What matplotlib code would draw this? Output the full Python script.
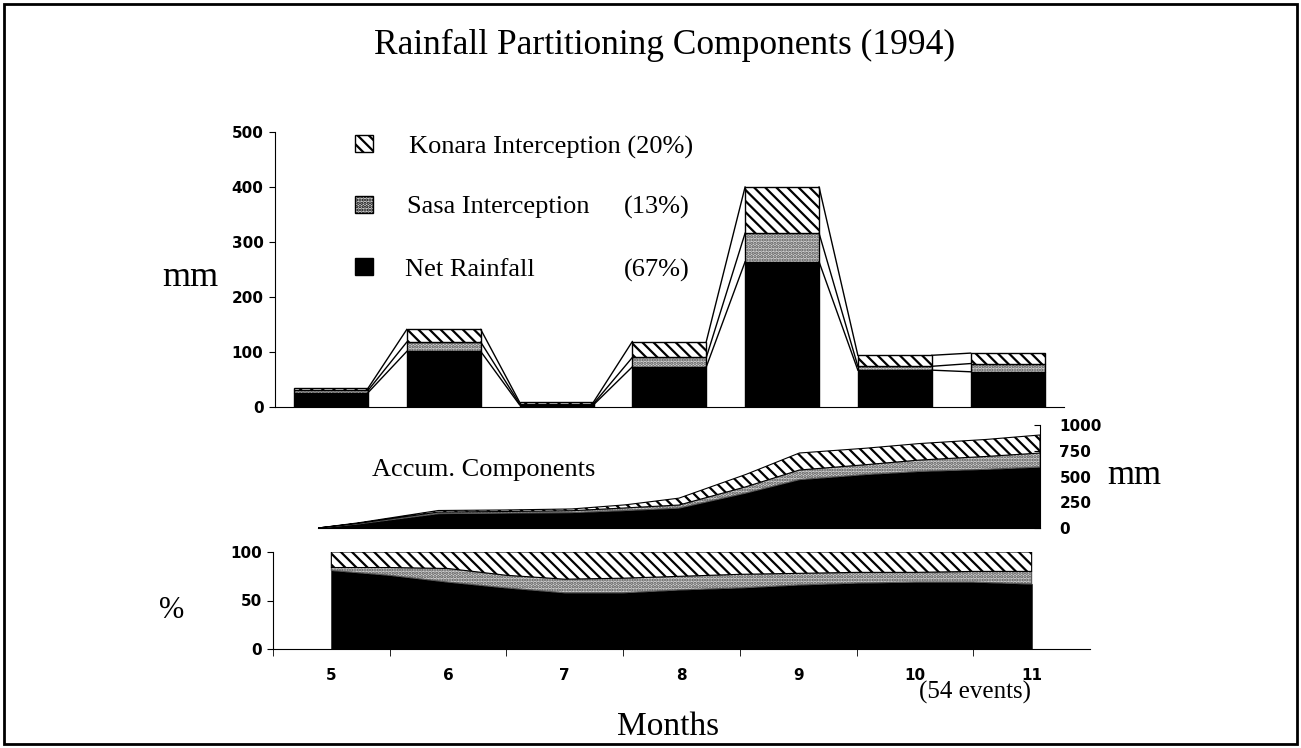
import numpy as np
import matplotlib
matplotlib.use('Agg')
import matplotlib.pyplot as plt
from matplotlib.patches import Rectangle

# monthly components (mm)
months = [5, 6, 7, 8, 9, 10, 11]
net = [26, 101, 4, 73, 264, 67, 64]
sasa = [4, 17, 2, 17, 52, 7, 15]
konara = [4, 23, 3, 29, 84, 20, 19]

# accumulated components (mm) along the 54 events
acc_event = [0, 3, 6, 9, 14, 19, 23, 27, 32, 36, 41, 45, 50, 54]
acc_net = [0, 40, 90, 140, 145, 150, 170, 194, 340, 470, 520, 550, 570, 592]
acc_sasa = [0, 5, 10, 15, 15, 18, 25, 29, 60, 93, 95, 110, 125, 136]
acc_konara = [0, 5, 10, 15, 15, 17, 30, 67, 120, 165, 160, 160, 165, 175]

# accumulated share (%)
pct_x = [5, 5.5, 6, 6.5, 7, 7.5, 8, 8.5, 9, 9.5, 10, 10.5, 11]
pct_net = [81, 76, 69, 63, 58, 58, 61, 63, 66, 68, 69, 69, 67]
pct_sasa = [3, 8, 14, 13, 14, 15, 14, 14, 12, 11, 10, 11, 13]
pct_konara = [16, 16, 17, 24, 28, 27, 25, 23, 22, 21, 21, 20, 20]

legend_names = ['Konara Interception (20%)', 'Sasa Interception', 'Net Rainfall']
legend_pcts = ['', '(13%)', '(67%)']

plt.rcParams['font.family'] = 'DejaVu Sans'
plt.rcParams['hatch.linewidth'] = 1.6
serif = 'Liberation Serif'
grey = '#d4d4d4'
dots = '.....'
diag = '\\\\\\'

W, H = 1301, 748
fig = plt.figure(figsize=(W / 100, H / 100), dpi=100)


def fx(px):
    return px / W


def fy(py):
    return 1 - py / H


def bold_ticks(ax):
    for lab in ax.get_xticklabels() + ax.get_yticklabels():
        lab.set_fontweight('bold')


# outer frame
fig.patches.append(Rectangle((fx(4), fy(744)), fx(1297) - fx(4), fy(4) - fy(744),
                             transform=fig.transFigure, fill=False, lw=2, ec='black'))

# ---- top: monthly bars ----
ax1 = fig.add_axes([fx(274.6), fy(407), fx(1064) - fx(274.6), fy(132) - fy(407)])
x = np.array(months)
w = 0.656
lev1 = np.array(net)
lev2 = lev1 + np.array(sasa)
lev3 = lev2 + np.array(konara)
ax1.bar(x, net, w, color='black', edgecolor='black', lw=1)
ax1.bar(x, sasa, w, bottom=lev1, color=grey, edgecolor='#555555', hatch=dots, lw=0)
ax1.bar(x, sasa, w, bottom=lev1, fill=False, edgecolor='black', lw=1)
ax1.bar(x, konara, w, bottom=lev2, color='white', edgecolor='black', hatch=diag, lw=1)
for lev in (lev1, lev2, lev3):
    for i in range(len(x) - 1):
        ax1.plot([x[i] + w / 2, x[i + 1] - w / 2], [lev[i], lev[i + 1]], color='black', lw=1)

ax1.set_xlim(4.5, 11.5)
ax1.set_ylim(0, 500)
ax1.set_xticks([])
ax1.set_yticks(range(0, 501, 100))
ax1.tick_params(axis='y', length=4, pad=4, labelsize=11)
bold_ticks(ax1)
for s in ('top', 'right'):
    ax1.spines[s].set_visible(False)

# legend drawn by hand (axes fractions)
box_y = [0.927, 0.705, 0.480]
box_style = [dict(facecolor='white', hatch=diag), dict(facecolor=grey, hatch=dots),
             dict(facecolor='black')]
text_y = [0.945, 0.727, 0.498]
text_x = [0.1702, 0.168, 0.1656]
for i in range(3):
    ax1.add_patch(Rectangle((0.102, box_y[i]), 0.023, 0.062, transform=ax1.transAxes,
                            edgecolor='black', lw=1, **box_style[i]))
    ax1.text(text_x[i], text_y[i], legend_names[i], transform=ax1.transAxes, family=serif,
             fontsize=19, va='center', ha='left')
    ax1.text(0.443, text_y[i], legend_pcts[i], transform=ax1.transAxes, family=serif,
             fontsize=19, va='center', ha='left')

# ---- middle: accumulated components ----
ax2 = fig.add_axes([fx(318), fy(528), fx(1040) - fx(318), fy(425) - fy(528)])
polys = ax2.stackplot(acc_event, acc_net, acc_sasa, acc_konara,
                      colors=['black', grey, 'white'], edgecolor='black', lw=0.8)
polys[1].set_hatch(dots)
polys[1].set_edgecolor('#555555')
polys[2].set_hatch(diag)
ax2.set_xlim(0, 54)
ax2.set_ylim(0, 1000)
ax2.set_xticks([])
ax2.yaxis.tick_right()
ax2.set_yticks([0, 250, 500, 750, 1000])
ax2.tick_params(axis='y', direction='in', length=4, pad=14, labelsize=11)
bold_ticks(ax2)
for s in ('top', 'left'):
    ax2.spines[s].set_visible(False)

# ---- bottom: accumulated share ----
ax3 = fig.add_axes([fx(273), fy(649), fx(1090) - fx(273), fy(552) - fy(649)])
p3 = ax3.stackplot(pct_x, pct_net, pct_sasa, pct_konara,
                   colors=['black', grey, 'white'], edgecolor='black', lw=0.8)
p3[1].set_hatch(dots)
p3[1].set_edgecolor('#555555')
p3[2].set_hatch(diag)
ax3.set_xlim(4.5, 11.5)
ax3.set_ylim(0, 100)
ax3.set_xticks(months)
ax3.set_xticks(np.arange(4.5, 11.0, 1), minor=True)
ax3.tick_params(axis='x', which='major', length=0, pad=14, labelsize=11)
ax3.tick_params(axis='x', which='minor', length=5)
ax3.set_yticks([0, 50, 100])
ax3.tick_params(axis='y', length=4, pad=4, labelsize=11)
bold_ticks(ax3)
for s in ('top', 'right'):
    ax3.spines[s].set_visible(False)

# ---- text ----
fig.text(fx(665), fy(45), 'Rainfall Partitioning Components (1994)', family=serif,
         fontsize=25.5, ha='center', va='center')
fig.text(fx(190), fy(278), 'mm', family=serif, fontsize=26, ha='center', va='center')
fig.text(fx(1134), fy(476), 'mm', family=serif, fontsize=25, ha='center', va='center')
fig.text(fx(172), fy(610), '%', family=serif, fontsize=22, ha='center', va='center')
fig.text(fx(372), fy(470), 'Accum. Components', family=serif, fontsize=19,
         ha='left', va='center')
fig.text(fx(975), fy(692), '(54 events)', family=serif, fontsize=18, ha='center', va='center')
fig.text(fx(668), fy(727), 'Months', family=serif, fontsize=24, ha='center', va='center')

fig.savefig('out.png', dpi=100)
